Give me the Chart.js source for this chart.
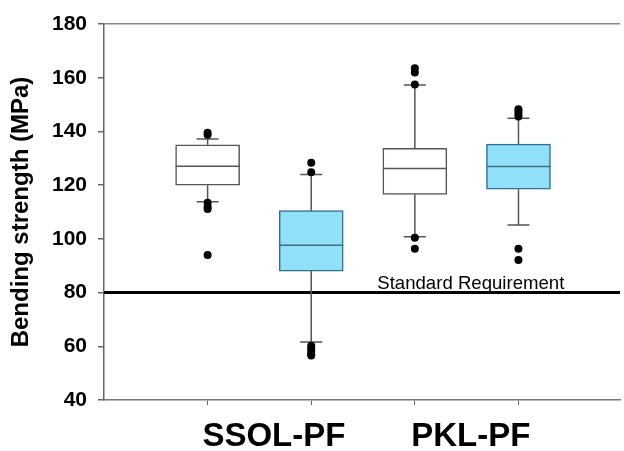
<!DOCTYPE html>
<html>
<head>
<meta charset="utf-8">
<script src="https://cdn.jsdelivr.net/npm/chart.js@4.4.1/dist/chart.umd.min.js"></script>
<style>
  html,body{margin:0;padding:0;background:#fff;}
  #wrap{width:624px;height:451px;position:relative;}
</style>
</head>
<body>
<div id="wrap"><canvas id="c"></canvas></div>
<script>
// box positions on the x axis and the group labels under them
var boxX = [0, 1, 2, 3];
var groups = ["SSOL-PF", "PKL-PF"];
var groupX = [0.64, 2.54];

// box plot values (MPa)
var q1 = [120, 88, 116.5, 118.5];
var q3 = [135, 110.5, 133.7, 135.3];
var medians = [127, 97.6, 126.2, 126.9];
var whiskLow = [113.8, 61.6, 100.8, 105.2];
var whiskHigh = [137.2, 124, 157.3, 144.9];
var outliers = [
  [139.5, 138.8, 113.4, 112, 111.1, 94],
  [128.3, 124.8, 60.2, 59.2, 58.2, 57.2, 56.6],
  [163.5, 161.9, 157.5, 100.4, 96.3],
  [148.3, 147.4, 146.5, 145.6, 96.3, 92.1]
];

var standard = 80;
var standardLabel = "Standard Requirement";

var FONT = "'Liberation Sans', Arial, sans-serif";
var boxFill = ['#ffffff', '#91e0f9', '#ffffff', '#91e0f9'];
var boxLine = ['#555555', '#2f6f8c', '#555555', '#2f6f8c'];
var medLine = ['#555555', '#3e6f80', '#555555', '#3e6f80'];

var boxData = [];
for (var i = 0; i < boxX.length; i++) {
  boxData.push({x: boxX[i], y: [q1[i], q3[i]]});
}
var outData = [];
for (var i = 0; i < outliers.length; i++) {
  for (var j = 0; j < outliers[i].length; j++) {
    outData.push({x: boxX[i], y: outliers[i][j]});
  }
}

var boxPlugin = {
  id: 'boxparts',
  afterDatasetDraw: function(chart, args) {
    if (args.index !== 1) return;
    var ctx = chart.ctx;
    var ys = chart.scales.y;
    var meta = chart.getDatasetMeta(1);
    ctx.save();
    for (var i = 0; i < meta.data.length; i++) {
      var bar = meta.data[i];
      var cx = bar.x, hw = bar.width / 2;
      var yl = ys.getPixelForValue(whiskLow[i]);
      var yh = ys.getPixelForValue(whiskHigh[i]);
      var y1 = ys.getPixelForValue(q1[i]);
      var y3 = ys.getPixelForValue(q3[i]);
      var ym = ys.getPixelForValue(medians[i]);
      ctx.strokeStyle = '#555555';
      ctx.lineWidth = 1.5;
      ctx.beginPath();
      ctx.moveTo(cx, y1); ctx.lineTo(cx, yl);
      ctx.moveTo(cx, y3); ctx.lineTo(cx, yh);
      ctx.moveTo(cx - 11, yl); ctx.lineTo(cx + 11, yl);
      ctx.moveTo(cx - 11, yh); ctx.lineTo(cx + 11, yh);
      ctx.stroke();
      ctx.strokeStyle = medLine[i];
      ctx.beginPath();
      ctx.moveTo(cx - hw, ym); ctx.lineTo(cx + hw, ym);
      ctx.stroke();
    }
    ctx.restore();
  },
  afterDraw: function(chart) {
    var ctx = chart.ctx;
    var x = chart.scales.x.getPixelForValue(2.54);
    var y = chart.scales.y.getPixelForValue(standard);
    ctx.save();
    ctx.fillStyle = '#000';
    ctx.font = '18.6px ' + FONT;
    ctx.textAlign = 'center';
    ctx.textBaseline = 'alphabetic';
    ctx.fillText(standardLabel, x, y - 4);
    ctx.restore();
  }
};

function isGroupTick(v) {
  for (var k = 0; k < groupX.length; k++) if (Math.abs(v - groupX[k]) < 1e-6) return k;
  return -1;
}

new Chart(document.getElementById('c').getContext('2d'), {
  type: 'bar',
  data: {
    datasets: [
      {type: 'scatter', data: outData, pointRadius: 4, pointBackgroundColor: '#000', pointBorderColor: '#000', pointBorderWidth: 0},
      {type: 'bar', data: boxData, backgroundColor: boxFill, borderColor: boxLine, borderWidth: 1.5, borderSkipped: false, barThickness: 64},
      {type: 'line', data: [{x: -1, y: standard}, {x: 3.98, y: standard}], borderColor: '#000', borderWidth: 3, pointRadius: 0}
    ]
  },
  options: {
    responsive: true,
    maintainAspectRatio: false,
    animation: false,
    layout: {padding: {top: 24, right: 0, left: 0, bottom: 0}},
    plugins: {legend: {display: false}, tooltip: {enabled: false}},
    scales: {
      x: {
        type: 'linear', min: -1, max: 3.98, offset: false,
        afterBuildTicks: function(axis) {
          axis.ticks = [0, groupX[0], 1, 2, groupX[1], 3].map(function(v) { return {value: v}; });
        },
        afterFit: function(axis) { axis.height = 51; },
        grid: {
          offset: false, drawOnChartArea: false, tickLength: 5,
          tickColor: function(c) {
            if (!c.tick || isGroupTick(c.tick.value) >= 0 || c.tick.value > 3.5) return 'rgba(0,0,0,0)';
            return '#666';
          }
        },
        border: {display: true, color: '#777', width: 1.5},
        ticks: {
          autoSkip: false, maxRotation: 0, padding: 12, color: '#000',
          font: {family: FONT, size: 33, weight: 'bold'},
          callback: function(v) { var k = isGroupTick(v); return k >= 0 ? groups[k] : ''; }
        }
      },
      y: {
        min: 40, max: 180,
        afterFit: function(axis) { axis.width = 104; },
        grid: {
          tickLength: 6, tickColor: '#666',
          color: function(c) { return c.tick && c.tick.value === 180 ? '#888' : 'rgba(0,0,0,0)'; },
          lineWidth: 1.5
        },
        border: {display: true, color: '#666', width: 1.5},
        ticks: {stepSize: 20, padding: 11, color: '#000', font: {family: FONT, size: 21, weight: 'bold'}},
        title: {display: true, text: 'Bending strength (MPa)', color: '#000', padding: {top: 7, bottom: 0}, font: {family: FONT, size: 24, weight: 'bold'}}
      }
    }
  },
  plugins: [boxPlugin]
});
</script>
</body>
</html>
